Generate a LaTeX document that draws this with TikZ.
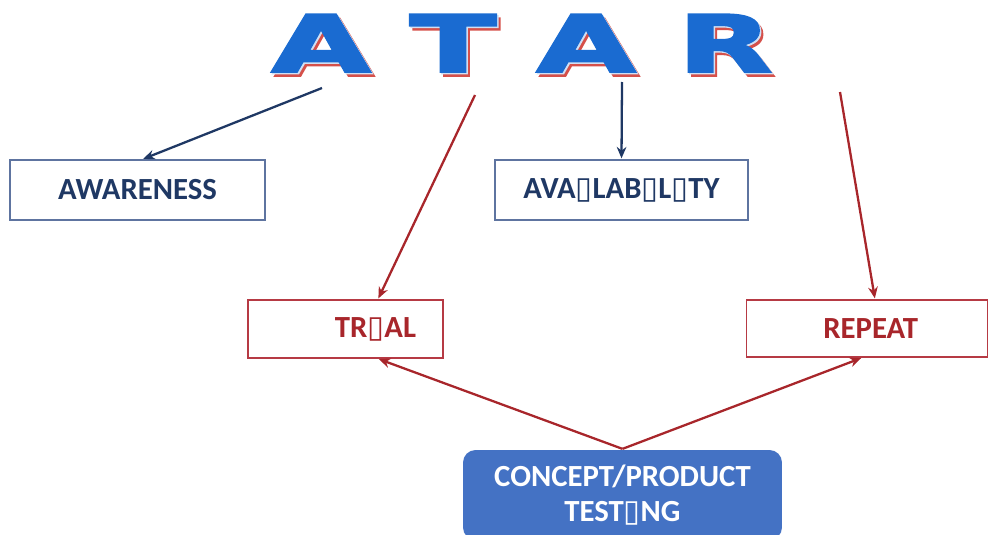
\documentclass[tikz,border=0pt]{standalone}
\usepackage{fontspec}
\setmainfont{Carlito}
\newfontfamily\titlefont[FakeBold=2.5]{DejaVu Sans}
\newfontfamily\symfont{DejaVu Sans}
\usetikzlibrary{positioning,arrows.meta}
\tikzset{every picture/.style={line width=1.3pt}}
\definecolor{atarnavy}{HTML}{1F3864}
\definecolor{atarbord}{HTML}{5E74A0}
\definecolor{atarmaroon}{HTML}{A8262B}
\definecolor{atarredbord}{HTML}{B63A44}
\definecolor{atarblue}{HTML}{1A6BD1}
\definecolor{atarshade}{HTML}{D5504A}
\definecolor{atarglow}{HTML}{CFE0F5}
\definecolor{atarfill}{HTML}{4472C4}
% missing-glyph box as it shows in the labels
\newcommand\tofu{{\symfont\mdseries\char"25AF}}
\tikzset{
  atarltr/.style={inner sep=0pt, anchor=base, font=\titlefont\bfseries\fontsize{45}{45}\selectfont},
  atarbox/.style={draw, rectangle, inner sep=0pt, font=\bfseries\fontsize{17.5}{20}\selectfont},
  atarln/.style={-{Stealth[length=6.5pt, width=5.5pt]}, shorten >=0.5pt}
}

\begin{document}
\begin{tikzpicture}[x=0.02cm, y=-0.02cm,
        atarbox/.append style={line width=0.9pt},
        atarnv/.style={atarbox, draw=atarbord, text=atarnavy},
        atarrd/.style={atarbox, draw=atarredbord, text=atarmaroon}]
      \clip (0,0) rectangle (990,534);
      % title letters: red shade, pale rim, blue face
      \foreach \ch/\cx/\sx [count=\i] in {A/321/1.62, T/453/1.6, A/586/1.62, R/725/1.55} {
        \node[atarltr, xscale=\sx, text=atarshade] (ltr\i sh) at (\cx+3.5,76) {\ch};
        \node[atarltr, xscale=\sx, text=atarglow]  (ltr\i hl) at (\cx+1.5,73.5) {\ch};
        \node[atarltr, xscale=\sx, text=atarblue]  (ltr\i)    at (\cx,72) {\ch};
      }
      \coordinate (foot1) at (322,88);
      \coordinate (foot2) at (475,95);
      \coordinate (foot3) at (622,82);
      \coordinate (foot4) at (840,92);
      \node[atarnv, minimum width=5.1cm, minimum height=1.2cm]   (aware)  at (137.5,190) {AWARENESS};
      \node[atarnv, minimum width=5.06cm, minimum height=1.2cm]  (avail)  at (621.5,190) {AVA\tofu LAB\tofu L\tofu TY};
      \node[atarrd, minimum width=3.9cm, minimum height=1.16cm]  (trial)  at (345.5,329) {\hspace*{1.2cm}TR\tofu AL};
      \node[atarrd, minimum width=4.82cm, minimum height=1.14cm] (repeat) at (867,328.5) {\hspace*{0.15cm}REPEAT};
      \node[rectangle, rounded corners=0.25cm, fill=atarfill, text=white, align=center,
            minimum width=6.38cm, minimum height=1.8cm, inner sep=0pt,
            font=\bfseries\fontsize{17.5}{21}\selectfont] (concept) at (622.5,495)
            {CONCEPT/PRODUCT\\[-1pt]TEST\tofu NG};
      \draw[atarln, atarnavy] (foot1) -- ([xshift=0.1cm]aware.north);
      \draw[atarln, atarmaroon] (foot2) -- ([xshift=0.65cm]trial.north);
      \draw[atarln, atarnavy] (foot3) -- (avail.north);
      \draw[atarln, atarmaroon] (foot4) -- ([xshift=0.16cm]repeat.north);
      \draw[atarln, atarmaroon] (concept.north) -- ([xshift=0.65cm]trial.south);
      \draw[atarln, atarmaroon] (concept.north) -- ([xshift=-0.1cm]repeat.south);
    \end{tikzpicture}
\end{document}
